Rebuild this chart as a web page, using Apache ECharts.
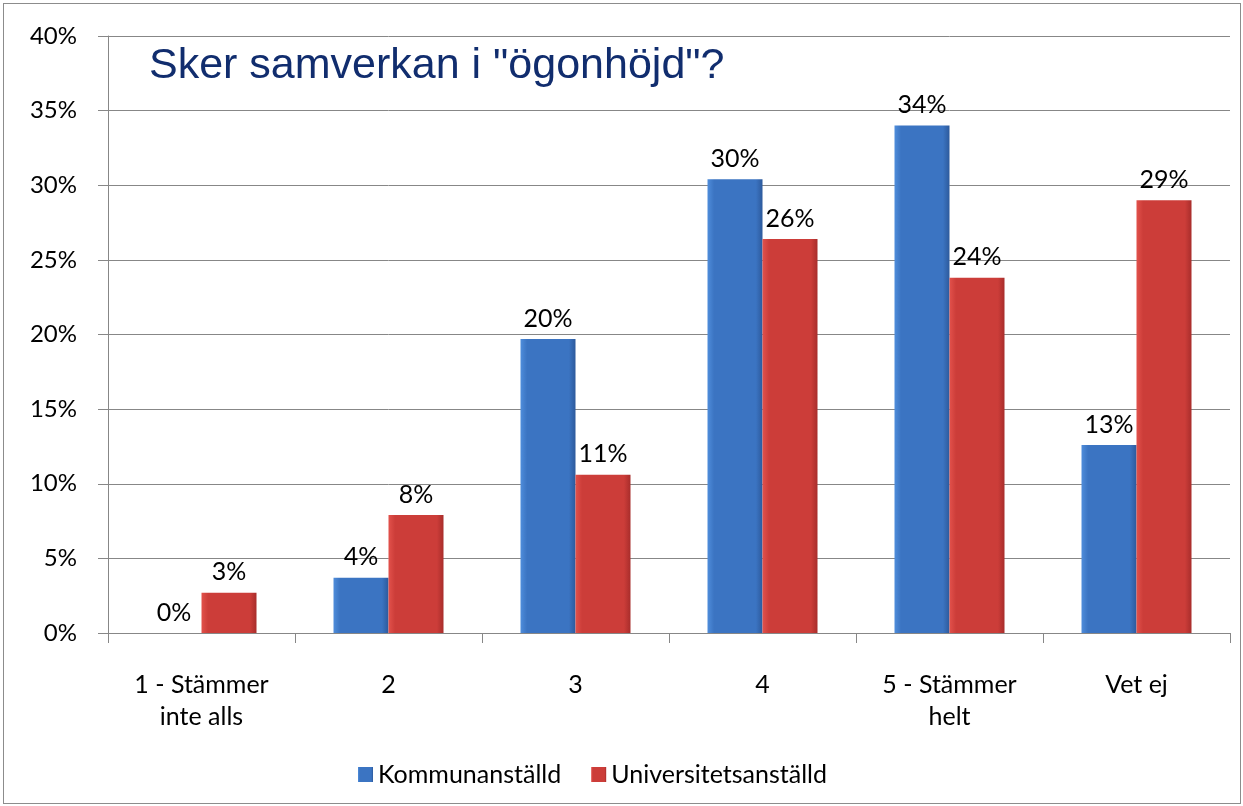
<!DOCTYPE html>
<html>
<head>
<meta charset="utf-8">
<script src="https://cdn.jsdelivr.net/npm/echarts@6/dist/echarts.min.js"></script>
<style>
  html, body { margin:0; padding:0; background:#fff; }
  #chart { width:1243px; height:806px; }
  #frame { position:absolute; left:3px; top:3px; width:1236px; height:799px; border:1px solid #8c8c8c; pointer-events:none; }
</style>
</head>
<body>
<div id="chart"></div>
<div id="frame"></div>
<script>
var categories = ['1 - Stämmer\ninte alls', '2', '3', '4', '5 - Stämmer\nhelt', 'Vet ej'];
var kommun = [0, 3.7, 19.7, 30.4, 34.0, 12.6];
var univ = [2.7, 7.9, 10.6, 26.4, 23.8, 29.0];
var yTicks = [0, 5, 10, 15, 20, 25, 30, 35, 40];

(function(){
  var c = echarts.init(document.getElementById('chart'));
  var txt = '#000000';
  var grid = '#878787';
  var font = 'Lato, "Open Sans", sans-serif';

  function grad(a, b, d) {
    return new echarts.graphic.LinearGradient(0, 0, 1, 0, [
      {offset:0, color:a}, {offset:0.12, color:b}, {offset:0.88, color:b}, {offset:1, color:d}
    ]);
  }
  var blue = grad('#4f8ddb', '#3b74c2', '#2d5a9c');
  var red = grad('#e2514b', '#cc3d39', '#a82d2b');

  function lbl() {
    return {show:true, position:'top', distance:8, color:txt, fontSize:25, fontFamily:font,
      formatter:function(p){ return Math.round(p.value) + '%'; }};
  }

  c.setOption({
    animation:false,
    title:{text:'Sker samverkan i "ögonhöjd"?', left:144, top:40,
      textStyle:{color:'#112d6e', fontSize:43, fontWeight:'normal', fontFamily:'"Liberation Sans", Arial, sans-serif'}},
    legend:{bottom:14, left:353, icon:'rect', itemWidth:15, itemHeight:15, itemGap:30,
      textStyle:{color:txt, fontSize:25, fontFamily:font},
      data:['Kommunanställd', 'Universitetsanställd']},
    grid:{left:108, right:13, top:36, bottom:173, containLabel:false},
    xAxis:{type:'category', data:categories,
      axisLine:{lineStyle:{color:grid, width:1}},
      axisTick:{show:true, length:10, lineStyle:{color:grid}},
      axisLabel:{color:txt, fontSize:25, fontFamily:font, lineHeight:32, margin:36}},
    yAxis:{type:'value', min:0, max:40, interval:5,
      axisLine:{show:true, lineStyle:{color:grid}},
      axisTick:{show:true, length:10, lineStyle:{color:grid}},
      splitLine:{show:true, lineStyle:{color:grid}},
      axisLabel:{color:txt, fontSize:24, fontFamily:font, margin:31,
        formatter:function(v){ return yTicks.indexOf(v) >= 0 ? v + '%' : ''; }}},
    series:[
      {name:'Kommunanställd', type:'bar', data:kommun, barWidth:55, barGap:'0%',
        itemStyle:{color:blue}, label:lbl()},
      {name:'Universitetsanställd', type:'bar', data:univ, barWidth:55,
        itemStyle:{color:red}, label:lbl()}
    ]
  });
})();
</script>
</body>
</html>
